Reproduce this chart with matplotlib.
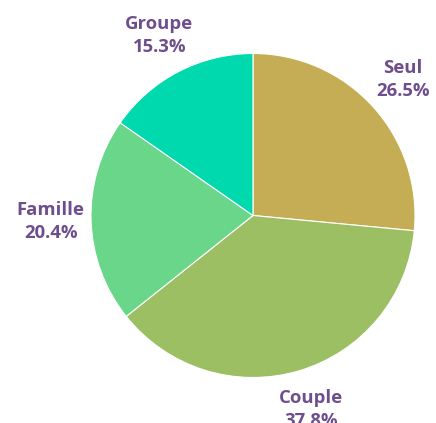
import matplotlib.pyplot as plt

# données
categories = ['Seul', 'Couple', 'Famille', 'Groupe']
parts = [26.5, 37.8, 20.4, 15.3]
couleurs = ['#C5AD55', '#9BBF62', '#6AD68A', '#00D9AD']

plt.rcParams['font.family'] = ['Open Sans', 'DejaVu Sans']

fig = plt.figure(figsize=(4.36, 4.23), dpi=100)
# centre du camembert ~ (253, 215) px, rayon ~162 px
cx, cy, r = 253, 423 - 215.5, 162
ax = fig.add_axes([(cx - r) / 436, (cy - r) / 423, 2 * r / 436, 2 * r / 423])

labels = [f'{c}\n{p:.1f}%' for c, p in zip(categories, parts)]
wedges, texts = ax.pie(parts, labels=labels, colors=couleurs, startangle=90,
                       counterclock=False, labeldistance=1.25, radius=1,
                       wedgeprops=dict(edgecolor='white', linewidth=0.8))
for t in texts:
    t.set_horizontalalignment('center')
    t.set_verticalalignment('center')
    t.set_color('#6E4E8C')
    t.set_fontweight('bold')
    t.set_fontsize(13.3)
    t.set_linespacing(1.35)

ax.set_xlim(-1, 1)
ax.set_ylim(-1, 1)
ax.set_aspect('equal')
ax.axis('off')

fig.savefig('out.png', dpi=100)
